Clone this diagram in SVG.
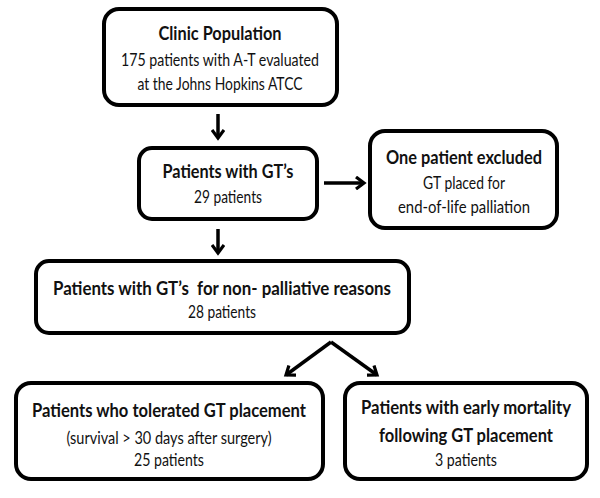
<svg xmlns="http://www.w3.org/2000/svg" width="600" height="498" viewBox="0 0 600 498">
<defs>
<style>
.box{fill:#fff;stroke:#000;stroke-width:4}
.t{font-family:Lato,"Open Sans","Liberation Sans",sans-serif;text-anchor:middle;fill:#111}
.b{font-weight:bold;font-size:19.5px}
.b2{font-weight:bold;font-size:18.5px}
.n{font-size:17px}
.c{fill:none;stroke:#000;stroke-width:3.5}
</style>
<marker id="ah" viewBox="0 0 14 14" refX="11" refY="7" markerWidth="14" markerHeight="14" markerUnits="userSpaceOnUse" orient="auto">
<path d="M3,1 L11,7 L3,13" fill="none" stroke="#000" stroke-width="3.2"/>
</marker>
</defs>
<rect width="600" height="498" fill="#fff"/>
<g id="connectors">
<line class="c" x1="218" y1="114" x2="218" y2="138" marker-end="url(#ah)"/>
<line class="c" x1="324" y1="183" x2="364" y2="183" marker-end="url(#ah)"/>
<line class="c" x1="218" y1="229" x2="218" y2="253" marker-end="url(#ah)"/>
<line class="c" x1="331" y1="342" x2="286" y2="375" marker-end="url(#ah)"/>
<line class="c" x1="331" y1="342" x2="377" y2="375" marker-end="url(#ah)"/>
</g>
<g id="clinic">
<rect class="box" x="104" y="9" width="233" height="96" rx="15"/>
<text class="t b" x="220" y="40" textLength="123" lengthAdjust="spacingAndGlyphs">Clinic Population</text>
<text class="t n" x="220" y="66" textLength="198" lengthAdjust="spacingAndGlyphs">175 patients with A-T evaluated</text>
<text class="t n" x="220" y="90" textLength="165" lengthAdjust="spacingAndGlyphs">at the Johns Hopkins ATCC</text>
</g>
<g id="gt">
<rect class="box" x="139" y="148" width="178" height="71" rx="13"/>
<text class="t b" x="228" y="178" textLength="131" lengthAdjust="spacingAndGlyphs">Patients with GT’s</text>
<text class="t n" x="228" y="203" textLength="68" lengthAdjust="spacingAndGlyphs">29 patients</text>
</g>
<g id="excluded">
<rect class="box" x="370" y="131" width="187" height="97" rx="15"/>
<text class="t b" x="464" y="164" textLength="156" lengthAdjust="spacingAndGlyphs">One patient excluded</text>
<text class="t n" x="464" y="189" textLength="82" lengthAdjust="spacingAndGlyphs">GT placed for</text>
<text class="t n" x="464" y="213" textLength="132" lengthAdjust="spacingAndGlyphs">end-of-life palliation</text>
</g>
<g id="nonpalliative">
<rect class="box" x="36" y="261" width="373" height="72" rx="13"/>
<text class="t b" x="222" y="295" textLength="338" lengthAdjust="spacingAndGlyphs" style="white-space:pre">Patients with GT’s  for non- palliative reasons</text>
<text class="t n" x="222" y="318" textLength="68" lengthAdjust="spacingAndGlyphs">28 patients</text>
</g>
<g id="tolerated">
<rect class="box" x="16" y="383" width="307" height="96" rx="15"/>
<text class="t b" x="169" y="417" textLength="274" lengthAdjust="spacingAndGlyphs">Patients who tolerated GT placement</text>
<text class="t n" x="169" y="444" textLength="205" lengthAdjust="spacingAndGlyphs">(survival &gt; 30 days after surgery)</text>
<text class="t n" x="169" y="466" textLength="70" lengthAdjust="spacingAndGlyphs">25 patients</text>
</g>
<g id="mortality">
<rect class="box" x="345" y="383" width="242" height="96" rx="15"/>
<text class="t b2" x="466" y="414" textLength="210" lengthAdjust="spacingAndGlyphs">Patients with early mortality</text>
<text class="t b2" x="466" y="442" textLength="174" lengthAdjust="spacingAndGlyphs">following GT placement</text>
<text class="t n" x="466" y="466" textLength="62" lengthAdjust="spacingAndGlyphs">3 patients</text>
</g>
</svg>
